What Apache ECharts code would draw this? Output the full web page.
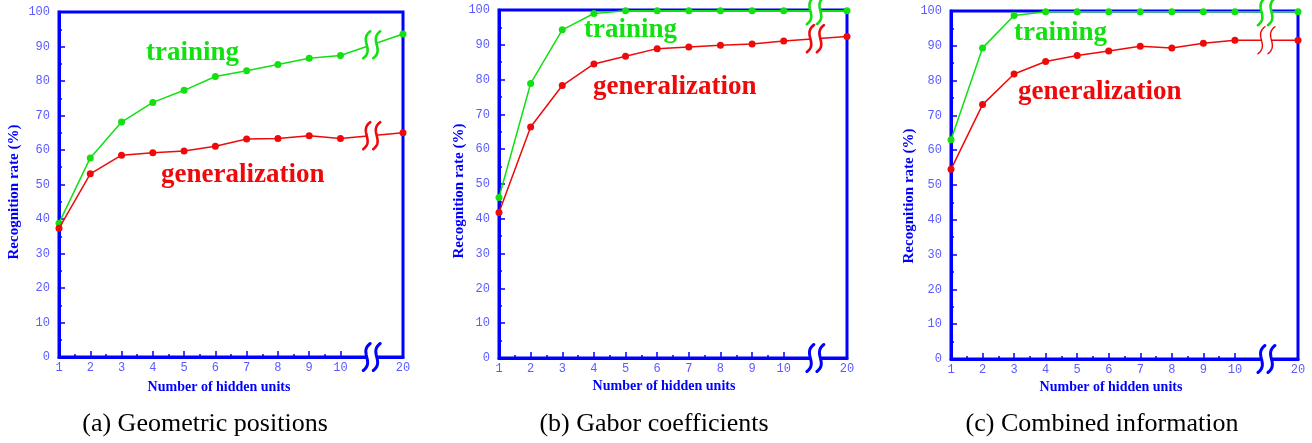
<!DOCTYPE html>
<html>
<head>
<meta charset="utf-8">
<script src="https://cdn.jsdelivr.net/npm/echarts@6/dist/echarts.min.js"></script>
<style>
  html, body { margin: 0; padding: 0; background: #ffffff; }
  #chart { width: 1312px; height: 443px; }
</style>
</head>
<body>
<div id="chart"></div>
<script>
// ---------------- data ----------------
const hiddenUnits = [1, 2, 3, 4, 5, 6, 7, 8, 9, 10, 20];
const yTicks = [0, 10, 20, 30, 40, 50, 60, 70, 80, 90, 100];

const trainA = [38.8, 57.7, 68.1, 73.8, 77.3, 81.3, 83.0, 84.8, 86.6, 87.4, 93.6];
const genA   = [37.3, 53.1, 58.5, 59.2, 59.7, 61.1, 63.2, 63.3, 64.1, 63.3, 65.0];

const trainB = [46.1, 78.9, 94.3, 99.0, 99.8, 99.8, 99.8, 99.8, 99.8, 99.8, 99.8];
const genB   = [41.8, 66.4, 78.3, 84.5, 86.7, 88.9, 89.4, 89.9, 90.2, 91.1, 92.4];

const trainC = [63.0, 89.4, 98.7, 99.8, 99.8, 99.8, 99.8, 99.8, 99.8, 99.8, 99.8];
const genC   = [54.5, 73.1, 81.9, 85.5, 87.2, 88.5, 89.9, 89.4, 90.7, 91.6, 91.6];

const captions = ['(a) Geometric positions', '(b) Gabor coefficients', '(c) Combined information'];
const seriesNames = ['training', 'generalization'];
const xName = 'Number of hidden units';
const yName = 'Recognition rate (%)';

// ---------------- styling ----------------
const GREEN = '#11e011';
const RED = '#ee0a0a';
const BLUE = '#0000ff';
const TICKBLUE = '#5a5aff';

// broken x axis: units 1..10 sit at 1..10, a break at 11, unit 20 at 12
function axisPos(u) { return u <= 10 ? u : 12; }
function axisLabelOf(p) { return p === 12 ? '20' : String(p); }
const majorXTicks = hiddenUnits.map(axisPos);
const minorXTicks = [];
for (let i = 0; i < 9; i++) minorXTicks.push(majorXTicks[i] + 0.5);

const panels = [
  { grid: { left: 59, top: 12, width: 344, height: 345 }, train: trainA, gen: genA,
    lw: { train: 2.6, gen: 2.6 },
    txtTrain: [146, 40], txtGen: [161, 162],
    xNamePos: [219, 387], yNamePos: [14, 192], captionX: 205 },
  { grid: { left: 499, top: 10, width: 348, height: 348 }, train: trainB, gen: genB,
    lw: { train: 2.6, gen: 2.6 },
    txtTrain: [584, 17], txtGen: [593, 74],
    xNamePos: [664, 386], yNamePos: [459, 191], captionX: 654 },
  { grid: { left: 951, top: 11, width: 347, height: 348 }, train: trainC, gen: genC,
    lw: { train: 2.6, gen: 1.4 },
    txtTrain: [1014, 20], txtGen: [1018, 79],
    xNamePos: [1111, 387], yNamePos: [909, 196], captionX: 1102 }
];

function toXY(arr) { return hiddenUnits.map((u, i) => [axisPos(u), arr[i]]); }

// sample a cubic bezier into points
function bez(p0, p1, p2, p3, n) {
  const pts = [];
  for (let i = 0; i <= n; i++) {
    const t = i / n, s = 1 - t;
    pts.push([
      s*s*s*p0[0] + 3*s*s*t*p1[0] + 3*s*t*t*p2[0] + t*t*t*p3[0],
      s*s*s*p0[1] + 3*s*s*t*p1[1] + 3*s*t*t*p2[1] + t*t*t*p3[1]
    ]);
  }
  return pts;
}
function sCurve(cx, cy, h) {
  const a = h / 2;
  return bez([cx + 3.5, cy - a], [cx - 8, cy - a * 0.35], [cx + 8, cy + a * 0.35], [cx - 3.5, cy + a], 24);
}

// break marks rendered through the grid's own coordinate system
function breakRender(params, api) {
  const p1 = api.coord([10, api.value(0)]);
  const p2 = api.coord([12, api.value(1)]);
  const cx = (p1[0] + p2[0]) / 2;
  const cy = (p1[1] + p2[1]) / 2;
  const color = api.value(2) === 0 ? GREEN : (api.value(2) === 1 ? RED : BLUE);
  const lw = api.value(3);
  const h = 27;
  const gapHalf = 5;
  const c1 = sCurve(cx - gapHalf, cy, h);
  const c2 = sCurve(cx + gapHalf, cy, h);
  const fill = c1.concat(c2.slice().reverse());
  return {
    type: 'group',
    children: [
      { type: 'polygon', shape: { points: fill }, style: { fill: '#ffffff', stroke: null } },
      { type: 'polyline', shape: { points: c1 }, style: { stroke: color, lineWidth: lw, fill: null, lineCap: 'round' } },
      { type: 'polyline', shape: { points: c2 }, style: { stroke: color, lineWidth: lw, fill: null, lineCap: 'round' } }
    ]
  };
}

const grids = [], xAxes = [], yAxes = [], series = [], graphics = [];

panels.forEach((p, i) => {
  grids.push(Object.assign({ show: true, borderColor: BLUE, borderWidth: 3, backgroundColor: 'transparent' }, p.grid));

  xAxes.push({
    type: 'value', gridIndex: i, min: 1, max: 12, interval: 1,
    position: 'bottom',
    axisLine: { show: true, lineStyle: { color: BLUE, width: 3 } },
    axisTick: { show: true, inside: true, length: 6, customValues: majorXTicks, lineStyle: { color: BLUE, width: 1.5 } },
    axisLabel: { show: true, customValues: majorXTicks, formatter: v => axisLabelOf(v), margin: 5,
                 fontFamily: 'Liberation Mono', fontSize: 12, color: TICKBLUE },
    splitLine: { show: false }
  });
  xAxes.push({
    type: 'value', gridIndex: i, min: 1, max: 12, interval: 1,
    position: 'bottom',
    axisLine: { show: false },
    axisTick: { show: true, inside: true, length: 3, customValues: minorXTicks, lineStyle: { color: BLUE, width: 1.5 } },
    axisLabel: { show: false },
    splitLine: { show: false }
  });
  yAxes.push({
    type: 'value', gridIndex: i, min: 0, max: 100, interval: 10,
    axisLine: { show: true, lineStyle: { color: BLUE, width: 3 } },
    axisTick: { show: true, inside: true, length: 6, lineStyle: { color: BLUE, width: 1.5 } },
    minorTick: { show: true, splitNumber: 2, length: 3, lineStyle: { color: BLUE, width: 1.5 } },
    axisLabel: { show: true, margin: 9, fontFamily: 'Liberation Mono', fontSize: 12, color: TICKBLUE,
                 formatter: v => (yTicks.indexOf(v) >= 0 ? String(v) : '') },
    splitLine: { show: false }
  });

  series.push({
    name: seriesNames[0], type: 'line', xAxisIndex: 2 * i, yAxisIndex: i,
    data: toXY(p.train), symbol: 'circle', symbolSize: 7, z: 3,
    lineStyle: { color: GREEN, width: 1.5 }, itemStyle: { color: GREEN }, animation: false
  });
  series.push({
    name: seriesNames[1], type: 'line', xAxisIndex: 2 * i, yAxisIndex: i,
    data: toXY(p.gen), symbol: 'circle', symbolSize: 7, z: 4,
    lineStyle: { color: RED, width: 1.5 }, itemStyle: { color: RED }, animation: false
  });
  series.push({
    type: 'custom', xAxisIndex: 2 * i, yAxisIndex: i, clip: false, z: 5, silent: true,
    renderItem: breakRender, animation: false,
    encode: { x: -1, y: -1 },
    data: [
      [p.train[9], p.train[10], 0, p.lw.train],
      [p.gen[9], p.gen[10], 1, p.lw.gen],
      [0, 0, 2, 3]
    ]
  });

  graphics.push({
    type: 'text', left: p.txtTrain[0], top: p.txtTrain[1],
    style: { text: seriesNames[0], font: 'bold 27px "Liberation Serif"', fill: GREEN }
  });
  graphics.push({
    type: 'text', left: p.txtGen[0], top: p.txtGen[1],
    style: { text: seriesNames[1], font: 'bold 27px "Liberation Serif"', fill: RED }
  });
  graphics.push({
    type: 'text', x: p.xNamePos[0], y: p.xNamePos[1],
    style: { text: xName, font: 'bold 14px "Liberation Serif"', fill: BLUE, align: 'center', verticalAlign: 'middle' }
  });
  graphics.push({
    type: 'text', x: p.yNamePos[0], y: p.yNamePos[1], rotation: Math.PI / 2,
    style: { text: yName, font: 'bold 15px "Liberation Serif"', fill: BLUE, align: 'center', verticalAlign: 'middle' }
  });
  graphics.push({
    type: 'text', x: p.captionX, y: 424,
    style: { text: captions[i], font: '26px "Liberation Serif"', fill: '#000000', align: 'center', verticalAlign: 'middle' }
  });
});

const chart = echarts.init(document.getElementById('chart'), null, { renderer: 'canvas' });
chart.setOption({
  animation: false,
  backgroundColor: '#ffffff',
  grid: grids,
  xAxis: xAxes,
  yAxis: yAxes,
  series: series,
  graphic: graphics
});
</script>
</body>
</html>
